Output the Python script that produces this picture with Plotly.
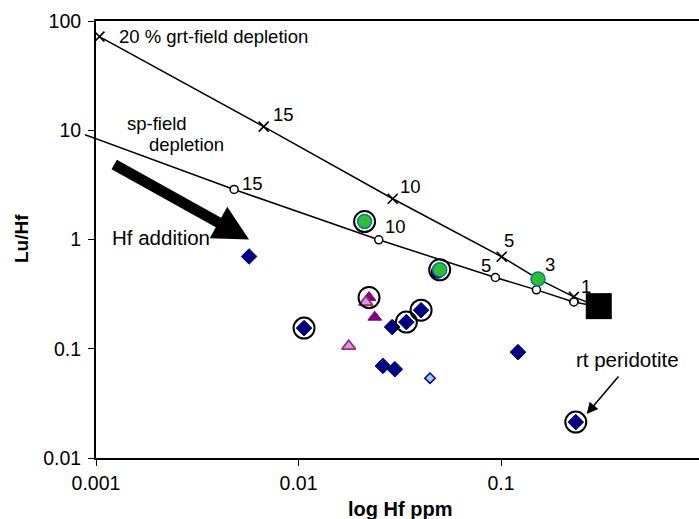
import numpy as np
import plotly.graph_objects as go

FONT = "Liberation Sans, Arial, sans-serif"

# ---------------- data ----------------
grt_x = [0.00104, 0.00673, 0.0292, 0.1008, 0.1523, 0.229, 0.304]
grt_y = [72.0, 10.8, 2.36, 0.695, 0.436, 0.298, 0.242]
grt_labels = ["", "15", "10", "5", "3", "1", ""]

sp_x = [0.001, 0.00481, 0.0249, 0.0938, 0.1496, 0.229, 0.304]
sp_y = [8.36, 2.87, 0.994, 0.449, 0.346, 0.268, 0.242]
sp_labels = ["", "15", "10", "5", "", "", ""]

blue_x = [0.00570, 0.01065, 0.0290, 0.0341, 0.0403, 0.0261, 0.0299, 0.1213, 0.234]
blue_y = [0.699, 0.1545, 0.158, 0.1754, 0.2254, 0.0697, 0.0650, 0.0931, 0.0213]

lightblue_x = [0.0446]
lightblue_y = [0.0538]

tri_x = [0.0223, 0.0238]
tri_y = [0.294, 0.1946]

lighttri_x = [0.0215, 0.0177]
lighttri_y = [0.267, 0.1057]

navy_hidden_x = [0.0487]
navy_hidden_y = [0.506]

green_x = [0.0212, 0.0498, 0.1523]
green_y = [1.46, 0.528, 0.436]

ring_x = [0.0212, 0.0498, 0.01065, 0.0341, 0.0403, 0.234, 0.0223]
ring_y = [1.46, 0.528, 0.1545, 0.1754, 0.2254, 0.0213, 0.294]

peridotite_x = [0.304]
peridotite_y = [0.2455]

x_ticks = [0.001, 0.01, 0.1]
x_ticktext = ["0.001", "0.01", "0.1"]
y_ticks = [0.01, 0.1, 1, 10, 100]
y_ticktext = ["0.01", "0.1", "1", "10", "100"]

hf_arrow_tail = (0.00123, 4.86)
hf_arrow_tip = (0.0057, 1.0)
rt_arrow_tip = (0.265, 0.0253)

# ---------------- layout geometry ----------------
W, H = 699, 519
ML, MR, MT, MB = 96, 0, 21, 61
PW, PH = W - ML - MR, H - MT - MB
XR = [-3, -3 + PW / 202.5]
YR = [-2, 2]

fig = go.Figure()

# depletion lines
fig.add_trace(go.Scatter(x=grt_x, y=grt_y, mode="lines",
                         line=dict(color="black", width=1.5), showlegend=False))
fig.add_trace(go.Scatter(x=grt_x[:-1], y=grt_y[:-1], mode="markers",
                         marker=dict(symbol="x-thin", size=10,
                                     line=dict(color="black", width=1.6)),
                         showlegend=False))
fig.add_trace(go.Scatter(x=sp_x, y=sp_y, mode="lines",
                         line=dict(color="black", width=1.5), showlegend=False))
fig.add_trace(go.Scatter(x=sp_x[1:-1], y=sp_y[1:-1], mode="markers",
                         marker=dict(symbol="circle", size=8, color="white",
                                     line=dict(color="black", width=1.5)),
                         showlegend=False))

# samples
fig.add_trace(go.Scatter(x=blue_x, y=blue_y, mode="markers",
                         marker=dict(symbol="diamond", size=12, color="#000080",
                                     line=dict(color="#000080", width=1)),
                         showlegend=False))
fig.add_trace(go.Scatter(x=lightblue_x, y=lightblue_y, mode="markers",
                         marker=dict(symbol="diamond", size=8, color="#99CCFF",
                                     line=dict(color="#000080", width=1.5)),
                         showlegend=False))
fig.add_trace(go.Scatter(x=tri_x, y=tri_y, mode="markers",
                         marker=dict(symbol="triangle-up", size=12, color="#800080",
                                     line=dict(color="#800080", width=1)),
                         showlegend=False))
fig.add_trace(go.Scatter(x=lighttri_x, y=lighttri_y, mode="markers",
                         marker=dict(symbol="triangle-up", size=12, color="#CC99FF",
                                     line=dict(color="#993366", width=1.8)),
                         showlegend=False))
fig.add_trace(go.Scatter(x=navy_hidden_x, y=navy_hidden_y, mode="markers",
                         marker=dict(symbol="circle", size=14, color="#000080"),
                         showlegend=False))
fig.add_trace(go.Scatter(x=green_x, y=green_y, mode="markers",
                         marker=dict(symbol="circle", size=14, color="#33BB33",
                                     line=dict(color="#008080", width=1.5)),
                         showlegend=False))
fig.add_trace(go.Scatter(x=ring_x, y=ring_y, mode="markers",
                         marker=dict(symbol="circle-open", size=21, color="black",
                                     line=dict(color="black", width=2)),
                         showlegend=False))
fig.add_trace(go.Scatter(x=peridotite_x, y=peridotite_y, mode="markers",
                         marker=dict(symbol="square", size=26, color="black",
                                     line=dict(width=0)),
                         showlegend=False))

annotations = []
lbl_font = dict(family=FONT, size=18.5, color="black")

# number labels along the depletion curves
grt_shift = [None, (7, 12), (5, 12), (0, 16), (5, 14), (5, 10), None]
for xv, yv, t, s in zip(grt_x, grt_y, grt_labels, grt_shift):
    if t:
        annotations.append(dict(x=np.log10(xv), y=np.log10(yv), text=t, showarrow=False,
                                xanchor="left", yanchor="middle", xshift=s[0], yshift=s[1],
                                font=lbl_font))
sp_shift = [None, (6, 6), (4, 13), (-2, 12), None, None, None]
sp_anchor = [None, "left", "left", "right", None, None, None]
for xv, yv, t, s, a in zip(sp_x, sp_y, sp_labels, sp_shift, sp_anchor):
    if t:
        annotations.append(dict(x=np.log10(xv), y=np.log10(yv), text=t, showarrow=False,
                                xanchor=a, yanchor="middle", xshift=s[0], yshift=s[1],
                                font=lbl_font))

# text labels
annotations += [
    dict(x=-2.895, y=1.854, text="20 % grt-field depletion", showarrow=False,
         xanchor="left", yanchor="middle", font=lbl_font),
    dict(x=-2.855, y=1.066, text="sp-field", showarrow=False,
         xanchor="left", yanchor="middle", font=lbl_font),
    dict(x=-2.746, y=0.874, text="depletion", showarrow=False,
         xanchor="left", yanchor="middle", font=lbl_font),
    dict(x=-2.93, y=0.02, text="Hf addition", showarrow=False,
         xanchor="left", yanchor="middle", font=dict(family=FONT, size=20.5, color="black")),
    dict(x=-0.638, y=-1.094, text="rt peridotite", showarrow=False,
         xanchor="left", yanchor="middle", font=dict(family=FONT, size=20.5, color="black")),
    dict(x=np.log10(rt_arrow_tip[0]), y=np.log10(rt_arrow_tip[1]), text="", showarrow=True,
         ax=33, ay=-39, arrowhead=2, arrowsize=1.4, arrowwidth=1.6, arrowcolor="black"),
    # axis titles
    dict(x=(400 - ML) / PW, y=-(509 - (MT + PH)) / PH, xref="paper", yref="paper",
         text="<b>log Hf ppm</b>", showarrow=False, xanchor="center", yanchor="middle",
         font=dict(family=FONT, size=20, color="black")),
    dict(x=-(ML - 22) / PW, y=(MT + PH - 239) / PH, xref="paper", yref="paper",
         text="<b>Lu/Hf</b>", showarrow=False, textangle=-90, xanchor="center", yanchor="middle",
         font=dict(family=FONT, size=19, color="black")),
]


# big "Hf addition" arrow as a filled polygon (paper coordinates)
def to_px(xv, yv):
    px = ML + (np.log10(xv) - XR[0]) / (XR[1] - XR[0]) * PW
    py = MT + (YR[1] - np.log10(yv)) / (YR[1] - YR[0]) * PH
    return np.array([px, py])


def to_paper(p):
    return ((p[0] - ML) / PW, (MT + PH - p[1]) / PH)


tail = to_px(*hf_arrow_tail)
tip = to_px(*hf_arrow_tip)
d = tip - tail
L = np.hypot(*d)
u = d / L
n = np.array([-u[1], u[0]])
shaft_half, head_half, head_len = 5.5, 18.0, 35.0
base = tip - u * head_len
pts = [tail - n * shaft_half, base - n * shaft_half, base - n * head_half, tip,
       base + n * head_half, base + n * shaft_half, tail + n * shaft_half]
path = "M " + " L ".join("{:.5f},{:.5f}".format(*to_paper(p)) for p in pts) + " Z"

# short stub of the sp-field line that pokes out left of the y axis
p0 = to_px(sp_x[0], sp_y[0])
p1 = to_px(sp_x[1], sp_y[1])
slope = (p1[1] - p0[1]) / (p1[0] - p0[0])
stub_start = np.array([85.0, p0[1] - slope * (p0[0] - 85.0)])

shapes = [
    dict(type="path", path=path, xref="paper", yref="paper",
         fillcolor="black", line=dict(width=0), layer="above"),
    dict(type="line", xref="paper", yref="paper",
         x0=to_paper(stub_start)[0], y0=to_paper(stub_start)[1],
         x1=to_paper(p0)[0], y1=to_paper(p0)[1],
         line=dict(color="black", width=1.5)),
]

fig.update_layout(
    width=W, height=H,
    margin=dict(l=ML, r=MR, t=MT, b=MB),
    paper_bgcolor="white", plot_bgcolor="white",
    font=dict(family=FONT, color="black"),
    annotations=annotations, shapes=shapes,
    xaxis=dict(type="log", range=XR, tickvals=x_ticks, ticktext=x_ticktext,
               ticks="outside", ticklen=6, tickwidth=1, tickcolor="black",
               showline=True, linecolor="black", linewidth=2, mirror=True,
               showgrid=False, zeroline=False, tickfont=dict(size=19.5),
               ticklabelstandoff=1),
    yaxis=dict(type="log", range=YR, tickvals=y_ticks, ticktext=y_ticktext,
               ticks="outside", ticklen=6, tickwidth=1, tickcolor="black",
               showline=True, linecolor="black", linewidth=2, mirror=False,
               showgrid=False, zeroline=False, tickfont=dict(size=19.5),
               ticklabelstandoff=3),
)

fig.write_html("out.html")
